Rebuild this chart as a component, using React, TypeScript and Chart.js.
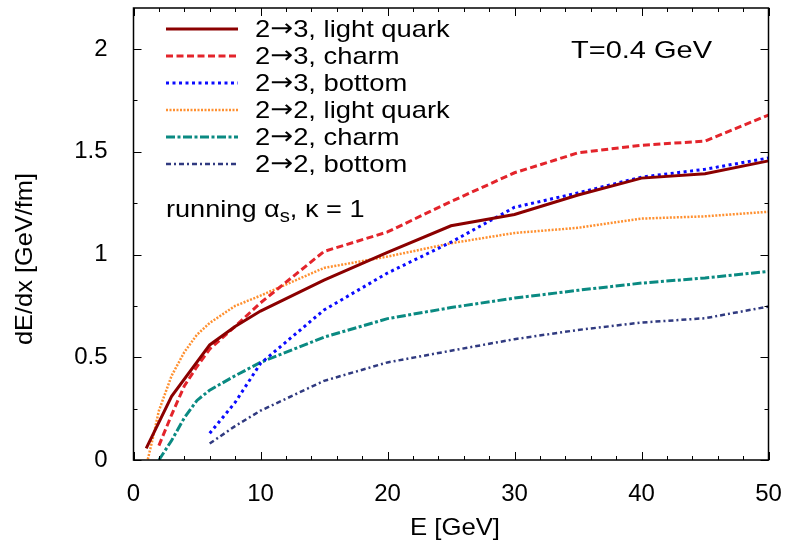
import { useEffect, useRef } from 'react';
import { Chart, registerables } from 'chart.js';

Chart.register(...registerables);

// ---------- data ----------
const seriesLabels = [
  '2→3, light quark',
  '2→3, charm',
  '2→3, bottom',
  '2→2, light quark',
  '2→2, charm',
  '2→2, bottom',
];

const light23E = [1, 3, 6, 8, 10, 15, 20, 25, 30, 35, 40, 45, 50];
const light23 = [0.057, 0.31, 0.56, 0.65, 0.725, 0.875, 1.01, 1.14, 1.195, 1.29, 1.372, 1.393, 1.456];

const charm23E = [2, 3, 4, 5, 6, 8, 10, 15, 20, 25, 30, 35, 40, 45, 50];
const charm23 = [0.07, 0.22, 0.36, 0.455, 0.54, 0.65, 0.765, 1.015, 1.11, 1.258, 1.398, 1.495, 1.532, 1.552, 1.679];

const bottom23E = [6, 8, 10, 15, 20, 25, 30, 35, 40, 45, 50];
const bottom23 = [0.13, 0.28, 0.47, 0.73, 0.91, 1.06, 1.23, 1.3, 1.377, 1.415, 1.47];

const light22E = [1, 1.5, 2, 3, 4, 5, 6, 8, 10, 15, 20, 25, 30, 35, 40, 45, 50];
const light22 = [-0.03, 0.1, 0.24, 0.41, 0.525, 0.61, 0.667, 0.75, 0.8, 0.935, 0.99, 1.055, 1.105, 1.13, 1.175, 1.186, 1.208];

const charm22E = [2, 3, 4, 5, 6, 8, 10, 15, 20, 25, 30, 35, 40, 45, 50];
const charm22 = [0.0, 0.095, 0.205, 0.29, 0.34, 0.41, 0.475, 0.598, 0.688, 0.742, 0.788, 0.826, 0.861, 0.886, 0.918];

const bottom22E = [6, 8, 10, 15, 20, 25, 30, 35, 40, 45, 50];
const bottom22 = [0.08, 0.165, 0.24, 0.385, 0.475, 0.532, 0.588, 0.633, 0.669, 0.69, 0.747];

const xTickLabels = ['0', '10', '20', '30', '40', '50'];
const yTickLabels = ['0', '0.5', '1', '1.5', '2'];

const xTitle = 'E [GeV]';
const yTitle = 'dE/dx [GeV/fm]';
const tempLabel = 'T=0.4 GeV';

// ---------- styles ----------
const FONT = '"Liberation Sans", Arial, Helvetica, sans-serif';
const ARROW_FONT = '"DejaVu Sans", sans-serif';
const colors = ['#8b0000', '#e3242b', '#0a0aff', '#ff9030', '#0a8a82', '#303a80'];
const widths = [3, 3, 3, 2.5, 3, 2.5];
const dashes: number[][] = [[], [7, 3.5], [3, 3.5], [2, 1.5], [9, 2.5, 3, 2.5], [5, 3, 2, 3]];

const toPoints = (xs: number[], ys: number[]) => xs.map((x, i) => ({ x, y: ys[i] }));

const seriesData = [
  toPoints(light23E, light23),
  toPoints(charm23E, charm23),
  toPoints(bottom23E, bottom23),
  toPoints(light22E, light22),
  toPoints(charm22E, charm22),
  toPoints(bottom22E, bottom22),
];

function drawStretched(ctx: CanvasRenderingContext2D, text: string, x: number, y: number, targetW: number, align: 'left' | 'center' = 'left') {
  const w = ctx.measureText(text).width;
  const s = targetW / w;
  ctx.save();
  ctx.translate(align === 'center' ? x - targetW / 2 : x, y);
  ctx.scale(s, 1);
  ctx.textAlign = 'left';
  ctx.fillText(text, 0, 0);
  ctx.restore();
}

const decorPlugin = {
  id: 'decor',
  afterDraw(chart: any) {
    const { ctx, chartArea: a, scales } = chart;
    const xs = scales.x;
    const ys = scales.y;
    ctx.save();
    // inward ticks on all four sides
    ctx.strokeStyle = '#000';
    ctx.lineWidth = 1;
    ctx.setLineDash([]);
    ctx.beginPath();
    for (let v = 0; v <= 50; v += 2) {
      const px = Math.round(xs.getPixelForValue(v)) + 0.5;
      const len = v % 10 === 0 ? 8 : 4;
      ctx.moveTo(px, a.bottom);
      ctx.lineTo(px, a.bottom - len);
      ctx.moveTo(px, a.top);
      ctx.lineTo(px, a.top + len);
    }
    for (let k = 0; k <= 8; k++) {
      const v = k * 0.25;
      const py = Math.round(ys.getPixelForValue(v)) + 0.5;
      const len = k % 2 === 0 ? 8 : 4;
      ctx.moveTo(a.left, py);
      ctx.lineTo(a.left + len, py);
      ctx.moveTo(a.right, py);
      ctx.lineTo(a.right - len, py);
    }
    ctx.stroke();
    ctx.lineWidth = 1.5;
    ctx.strokeRect(a.left, a.top, a.right - a.left, a.bottom - a.top);

    // legend
    ctx.fillStyle = '#000';
    ctx.textBaseline = 'middle';
    ctx.textAlign = 'left';
    const SX = 1.14;
    chart.data.datasets.forEach((ds: any, i: number) => {
      const y = 29 + 27 * i;
      ctx.save();
      ctx.strokeStyle = ds.borderColor;
      ctx.lineWidth = ds.borderWidth;
      ctx.setLineDash(ds.borderDash || []);
      ctx.beginPath();
      ctx.moveTo(166, y);
      ctx.lineTo(238, y);
      ctx.stroke();
      ctx.restore();
      const label: string = ds.label;
      const idx = label.indexOf('→');
      const head = label.slice(0, idx);
      const tail = label.slice(idx + 1);
      ctx.save();
      ctx.translate(255, y + 1);
      ctx.scale(SX, 1);
      ctx.font = `24px ${FONT}`;
      ctx.fillText(head, 0, 0);
      let cx = ctx.measureText(head).width;
      ctx.font = `24px ${ARROW_FONT}`;
      ctx.fillText('→', cx, 0);
      cx += ctx.measureText('→').width;
      ctx.font = `24px ${FONT}`;
      ctx.fillText(tail, cx, 0);
      ctx.restore();
    });

    // annotations
    ctx.font = `24px ${FONT}`;
    drawStretched(ctx, tempLabel, 571, 51, 141);

    ctx.save();
    ctx.translate(166, 210);
    ctx.scale(1.13, 1);
    let x = 0;
    const p1 = 'running α';
    ctx.fillText(p1, x, 0);
    x += ctx.measureText(p1).width;
    ctx.font = `18px ${FONT}`;
    ctx.fillText('s', x, 7);
    x += ctx.measureText('s').width;
    ctx.font = `24px ${FONT}`;
    ctx.fillText(', κ = 1', x, 0);
    ctx.restore();

    // axis titles
    drawStretched(ctx, xTitle, 455, 528, 90, 'center');
    ctx.save();
    ctx.translate(25, 259);
    ctx.rotate(-Math.PI / 2);
    drawStretched(ctx, yTitle, 0, 0, 172, 'center');
    ctx.restore();
    ctx.restore();
  },
};

const noPad = (s: any) => {
  s.paddingTop = 0;
  s.paddingBottom = 0;
  s.paddingLeft = 0;
  s.paddingRight = 0;
};

export default function App() {
  const ref = useRef<HTMLCanvasElement | null>(null);
  useEffect(() => {
    document.body.style.margin = '0';
    const canvas = ref.current;
    if (!canvas) return;
    const chart = new Chart(canvas, {
      type: 'line',
      data: {
        datasets: seriesData.map((pts, i) => ({
          label: seriesLabels[i],
          data: pts,
          borderColor: colors[i],
          backgroundColor: colors[i],
          borderWidth: widths[i],
          borderDash: dashes[i],
          pointRadius: 0,
          pointHoverRadius: 0,
          tension: 0,
          fill: false,
        })),
      },
      options: {
        responsive: false,
        animation: false,
        events: [],
        layout: { padding: { top: 8, right: 21.5, left: 0, bottom: 0 } },
        plugins: {
          legend: { display: false },
          tooltip: { enabled: false },
        },
        scales: {
          x: {
            type: 'linear',
            min: 0,
            max: 50,
            afterFit: (s: any) => {
              s.height = 82;
              noPad(s);
            },
            grid: { display: false },
            border: { display: false },
            ticks: {
              stepSize: 10,
              padding: 12,
              color: '#000',
              font: { family: FONT, size: 24 },
              maxRotation: 0,
              callback: (v: any) => {
                const i = Math.round(Number(v) / 10);
                return xTickLabels[i] ?? '';
              },
            },
          },
          y: {
            type: 'linear',
            min: 0,
            max: 2.2,
            afterFit: (s: any) => {
              s.width = 133.5;
              noPad(s);
            },
            grid: { display: false },
            border: { display: false },
            ticks: {
              stepSize: 0.5,
              includeBounds: false,
              padding: 18,
              color: '#000',
              font: { family: FONT, size: 24 },
              callback: (v: any) => {
                const i = Math.round(Number(v) / 0.5);
                return yTickLabels[i] ?? '';
              },
            },
          },
        },
      },
      plugins: [decorPlugin],
    });
    return () => chart.destroy();
  }, []);
  return (
    <div style={{ position: 'absolute', left: 0, top: 0, width: 790, height: 542 }}>
      <canvas ref={ref} width={790} height={542} />
    </div>
  );
}
